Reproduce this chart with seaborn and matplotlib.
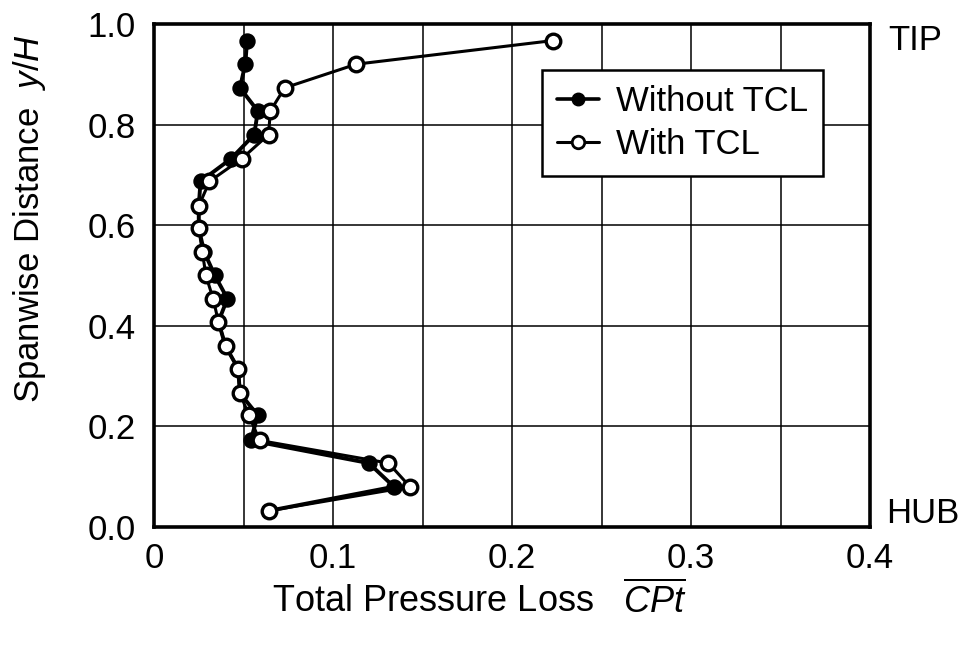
import matplotlib
matplotlib.use("Agg")
import matplotlib.pyplot as plt
import seaborn as sns
import pandas as pd
from matplotlib.ticker import MultipleLocator, FixedLocator
from matplotlib.lines import Line2D

# Spanwise traverse positions and loss coefficients
span = [0.967, 0.920, 0.873, 0.827, 0.780, 0.732, 0.687, 0.638, 0.594, 0.547,
        0.500, 0.454, 0.408, 0.359, 0.315, 0.266, 0.222, 0.172, 0.127, 0.080, 0.032]
loss_without_tcl = [0.052, 0.051, 0.048, 0.058, 0.056, 0.043, 0.026, 0.025, 0.025, 0.028,
                    0.034, 0.041, 0.036, 0.040, 0.047, 0.048, 0.058, 0.054, 0.120, 0.134, 0.064]
loss_with_tcl = [0.223, 0.113, 0.073, 0.065, 0.064, 0.049, 0.031, 0.025, 0.025, 0.027,
                 0.029, 0.033, 0.036, 0.040, 0.047, 0.048, 0.053, 0.059, 0.131, 0.143, 0.064]
series_names = ["Without TCL", "With TCL"]
x_ticks = [0.0, 0.1, 0.2, 0.3, 0.4]
x_tick_labels = ["0", "0.1", "0.2", "0.3", "0.4"]
y_ticks = [0.0, 0.2, 0.4, 0.6, 0.8, 1.0]
y_tick_labels = ["0.0", "0.2", "0.4", "0.6", "0.8", "1.0"]

sns.set_theme(style="white")
plt.rcParams["font.family"] = ["Liberation Sans", "DejaVu Sans"]
plt.rcParams["text.color"] = "black"
plt.rcParams["axes.labelcolor"] = "black"
plt.rcParams["mathtext.fontset"] = "custom"
plt.rcParams["mathtext.rm"] = "Liberation Sans"
plt.rcParams["mathtext.it"] = "Liberation Sans:italic"

FS = 25

df_without = pd.DataFrame({"loss": loss_without_tcl, "span": span})
df_with = pd.DataFrame({"loss": loss_with_tcl, "span": span})

fig = plt.figure(figsize=(9.71, 6.47), dpi=100)
ax = fig.add_axes([0.1586, 0.1855, 0.896 - 0.1586, 0.963 - 0.1855])

sns.lineplot(data=df_without, x="loss", y="span", sort=False, ax=ax,
             color="black", linewidth=2.8, marker="o", markersize=10,
             markerfacecolor="black", markeredgecolor="black", markeredgewidth=1.8,
             zorder=3, estimator=None)
sns.lineplot(data=df_with, x="loss", y="span", sort=False, ax=ax,
             color="black", linewidth=2.2, marker="o", markersize=10.5,
             markerfacecolor="white", markeredgecolor="black", markeredgewidth=2.4,
             zorder=4, estimator=None)

ax.set_xlim(0, 0.4)
ax.set_ylim(0, 1.0)
ax.xaxis.set_major_locator(FixedLocator(x_ticks))
ax.set_xticklabels(x_tick_labels)
ax.yaxis.set_major_locator(FixedLocator(y_ticks))
ax.set_yticklabels(y_tick_labels)
ax.xaxis.set_minor_locator(MultipleLocator(0.05))

ax.grid(True, which="major", color="black", linewidth=1.1)
ax.grid(True, which="minor", axis="x", color="black", linewidth=1.1)
ax.set_axisbelow(True)

for side in ax.spines.values():
    side.set_visible(True)
    side.set_color("black")
    side.set_linewidth(2.6)

ax.tick_params(axis="both", which="major", labelsize=FS, colors="black",
               length=3, width=1, direction="out")
ax.tick_params(axis="x", which="major", pad=8)
ax.tick_params(axis="y", which="major", pad=10)
ax.tick_params(axis="x", which="minor", length=0)

ax.set_xlabel(r"Total Pressure Loss   $\overline{\mathit{CPt}}$", fontsize=26)
ax.xaxis.set_label_coords(0.454, -0.108)
ax.set_ylabel(r"Spanwise Distance  $\mathit{y/H}$", fontsize=FS)
ax.yaxis.set_label_coords(-0.148, 0.614)

ax.text(1.025, 0.967, "TIP", transform=ax.transAxes, fontsize=FS, va="center", ha="left")
ax.text(1.023, 0.027, "HUB", transform=ax.transAxes, fontsize=FS, va="center", ha="left")

handles = [
    Line2D([], [], color="black", linewidth=2.6, marker="o", markersize=9,
           markerfacecolor="black", markeredgecolor="black"),
    Line2D([], [], color="black", linewidth=2.2, marker="o", markersize=9,
           markerfacecolor="white", markeredgecolor="black", markeredgewidth=2),
]
leg = ax.legend(handles, series_names, loc="upper right", bbox_to_anchor=(0.934, 0.908),
                fontsize=FS, frameon=True, fancybox=False, framealpha=1,
                edgecolor="black", handlelength=1.2, handletextpad=0.5,
                borderpad=0.42, labelspacing=0.3, borderaxespad=0)
leg.get_frame().set_linewidth(1.8)

fig.savefig("out.png", dpi=100, facecolor="white")
